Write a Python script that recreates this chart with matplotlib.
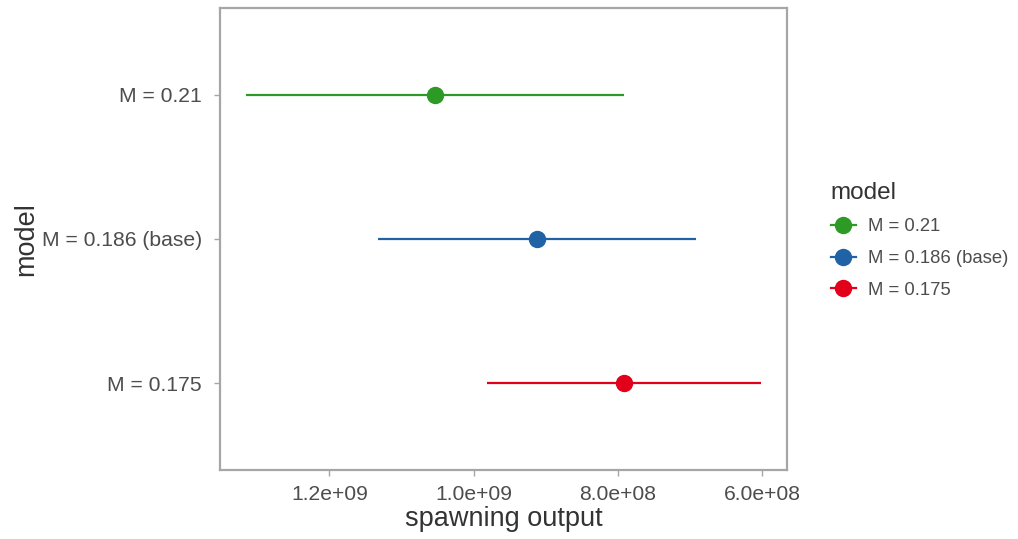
import matplotlib
matplotlib.use("Agg")
import matplotlib.pyplot as plt
from matplotlib.lines import Line2D

plt.rcParams['font.family'] = ['Liberation Sans', 'DejaVu Sans']

models = ["M = 0.21", "M = 0.186 (base)", "M = 0.175"]
colors = ["#2e9a26", "#1f63a6", "#e2001a"]
est = [1.054e9, 9.12e8, 7.92e8]
lower = [7.92e8, 6.92e8, 6.01e8]
upper = [1.316e9, 1.133e9, 9.82e8]
xticks = [1.2e9, 1.0e9, 8.0e8, 6.0e8]
xticklabels = ["1.2e+09", "1.0e+09", "8.0e+08", "6.0e+08"]

W, H = 1018, 539
fig = plt.figure(figsize=(W/100, H/100), dpi=100)
ax = fig.add_axes([220/W, (H-470)/H, (787-220)/W, (470-8)/H])

n = len(models)
ypos = [n - 1 - i for i in range(n)]
for y, m, c, e, lo, hi in zip(ypos, models, colors, est, lower, upper):
    ax.plot([lo, hi], [y, y], color=c, lw=1.6, solid_capstyle='butt')
    ax.plot([e], [y], 'o', color=c, ms=11.5)

lo_all, hi_all = min(lower), max(upper)
pad = 0.05 * (hi_all - lo_all)
ax.set_xlim(hi_all + pad, lo_all - pad)
ax.set_ylim(-0.6, n - 0.4)
ax.set_xticks(xticks)
ax.set_xticklabels(xticklabels)
ax.set_yticks(ypos)
ax.set_yticklabels(models)
ax.tick_params(axis='x', pad=7)
ax.tick_params(axis='y', pad=9)
ax.tick_params(axis='both', colors='#a6a6a6', labelcolor='#4d4d4d', labelsize=15.2, length=4, width=1)
for s in ax.spines.values():
    s.set_color('#a6a6a6')
    s.set_linewidth(1.6)
ax.set_xlabel("spawning output", fontsize=19.5, color='#333333', labelpad=1)
ax.set_ylabel("model", fontsize=19.5, color='#333333', labelpad=2)

handles = [Line2D([0], [0], color=c, lw=1.6, marker='o', ms=11.5) for c in colors]
leg = fig.legend(handles, models, title="model", loc='upper left',
                 bbox_to_anchor=(814/W, 1 - 165/H), frameon=False,
                 fontsize=13.3, title_fontsize=17.5, handlelength=1.35,
                 labelspacing=0.8, handletextpad=0.7, alignment='left')
for t in leg.get_texts():
    t.set_color('#4d4d4d')
leg.get_title().set_color('#333333')

fig.savefig("out.png", dpi=100)
